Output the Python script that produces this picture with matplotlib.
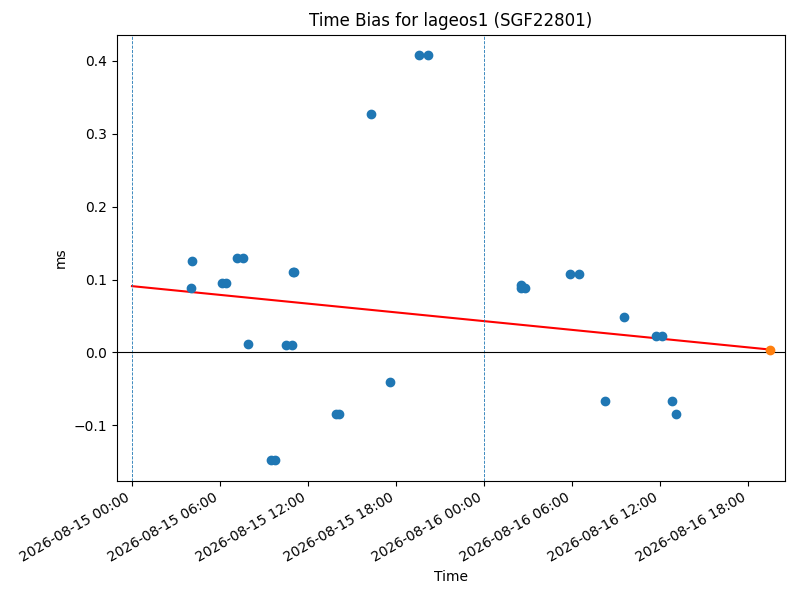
import numpy as np
import pandas as pd
import matplotlib
matplotlib.use('Agg')
import matplotlib.pyplot as plt
import matplotlib.dates as mdates

# Time bias measurements (ms)
times = [
    "2026-08-15 04:05", "2026-08-15 04:01",
    "2026-08-15 06:10", "2026-08-15 06:26",
    "2026-08-15 07:10", "2026-08-15 07:34",
    "2026-08-15 07:55",
    "2026-08-15 09:30", "2026-08-15 09:44",
    "2026-08-15 10:29", "2026-08-15 10:56",
    "2026-08-15 10:58", "2026-08-15 11:04",
    "2026-08-15 13:54", "2026-08-15 14:08",
    "2026-08-15 16:18",
    "2026-08-15 17:35",
    "2026-08-15 19:34", "2026-08-15 20:13",
    "2026-08-16 02:30", "2026-08-16 02:33", "2026-08-16 02:47",
    "2026-08-16 05:52", "2026-08-16 06:29",
    "2026-08-16 08:15",
    "2026-08-16 09:33",
    "2026-08-16 11:45", "2026-08-16 12:08",
    "2026-08-16 12:48",
    "2026-08-16 13:05",
]
bias = [
    0.125, 0.089,
    0.095, 0.095,
    0.130, 0.130,
    0.011,
    -0.148, -0.148,
    0.010, 0.010,
    0.110, 0.110,
    -0.085, -0.085,
    0.327,
    -0.040,
    0.408, 0.408,
    0.093, 0.089, 0.089,
    0.107, 0.107,
    -0.067,
    0.048,
    0.023, 0.023,
    -0.066,
    -0.084,
]

# latest / predicted point
last_time = "2026-08-16 19:30"
last_bias = 0.004

# trend line endpoints
trend_times = ["2026-08-15 00:00", "2026-08-16 19:30"]
trend_vals = [0.091, 0.004]

midnights = ["2026-08-15 00:00", "2026-08-16 00:00"]

t = pd.to_datetime(times)

fig, ax = plt.subplots(figsize=(8, 6), dpi=100)

ax.scatter(t, bias, color='C0', zorder=3)
ax.plot(pd.to_datetime(trend_times), trend_vals, color='red')
ax.scatter(pd.to_datetime([last_time]), [last_bias], color='C1', zorder=4)

for m in midnights:
    ax.axvline(pd.Timestamp(m), color='#1f77b4', linestyle='--', linewidth=0.6)
ax.axhline(0, color='black', linewidth=0.8)

ax.set_xlim(pd.Timestamp("2026-08-14 22:58"), pd.Timestamp("2026-08-16 20:31"))
ax.xaxis.set_major_locator(mdates.HourLocator(byhour=[0, 6, 12, 18]))
ax.xaxis.set_major_formatter(mdates.DateFormatter('%Y-%m-%d %H:%M'))

ax.set_title('Time Bias for lageos1 (SGF22801)')
ax.set_xlabel('Time')
ax.set_ylabel('ms')
fig.autofmt_xdate()
fig.subplots_adjust(left=0.146, right=0.981, top=0.942, bottom=0.199)
plt.savefig('out.png')
